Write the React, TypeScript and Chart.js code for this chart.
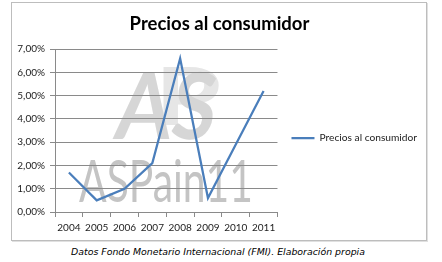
import React, { useEffect, useRef } from "react";
import { Chart, registerables } from "chart.js";

Chart.register(...registerables);

const years: string[] = ["2004", "2005", "2006", "2007", "2008", "2009", "2010", "2011"];
const preciosConsumidor: number[] = [1.7, 0.5, 1.0, 2.1, 6.6, 0.6, 2.9, 5.2];
const seriesName = "Precios al consumidor";
const chartTitle = "Precios al consumidor";
const caption = "Datos Fondo Monetario Internacional (FMI). Elaboración propia";
const watermarkText = "ASPain11";

const FONT = "Lato, 'Open Sans', sans-serif";
const GRID = "#8a8a8a";

const watermark = {
  id: "watermark",
  beforeDraw(chart: any) {
    const { ctx, chartArea: a } = chart;
    ctx.save();
    // 3D-ish logo block
    ctx.font = `bold 80px ${FONT}`;
    ctx.fillStyle = "#e6e6e6";
    let w = ctx.measureText("P").width;
    ctx.save();
    ctx.translate(a.left + 100, a.top + 76);
    ctx.scale(66 / w, 1);
    ctx.fillText("P", 0, 0);
    ctx.restore();
    ctx.font = `bold 92px ${FONT}`;
    w = ctx.measureText("AS").width;
    const g = ctx.createLinearGradient(a.left + 60, a.top + 20, a.left + 160, a.top + 92);
    g.addColorStop(0, "#d6d6d6");
    g.addColorStop(1, "#ececec");
    ctx.fillStyle = g;
    ctx.save();
    ctx.translate(a.left + 58, a.top + 90);
    ctx.transform(1, 0, -0.12, 1, 0, 0);
    ctx.scale(100 / w, 1);
    ctx.fillText("AS", 0, 0);
    ctx.restore();
    // ASPain11 text
    ctx.font = `58px ${FONT}`;
    w = ctx.measureText(watermarkText).width;
    ctx.fillStyle = "#c4c4c4";
    ctx.translate(a.left + 24, a.bottom - 10);
    ctx.scale(174 / w, 1);
    ctx.fillText(watermarkText, 0, 0);
    ctx.restore();
  },
};

function fmt(v: number): string {
  return v.toFixed(2).replace(".", ",") + "%";
}

export default function App() {
  const ref = useRef<HTMLCanvasElement | null>(null);
  useEffect(() => {
    if (!ref.current) return;
    const chart = new Chart(ref.current, {
      type: "line",
      data: {
        labels: years,
        datasets: [
          {
            label: seriesName,
            data: preciosConsumidor,
            borderColor: "#4a7ebb",
            backgroundColor: "#4a7ebb",
            borderWidth: 2.25,
            pointRadius: 0,
            tension: 0,
            fill: false,
          },
        ],
      },
      options: {
        responsive: false,
        animation: false,
        layout: { padding: { left: 0, right: 15, top: 0, bottom: 1 } },
        plugins: {
          tooltip: { enabled: false },
          title: {
            display: true,
            text: chartTitle,
            color: "#000",
            font: { family: FONT, size: 18.5, weight: "bold" },
            padding: { top: 10, bottom: 14 },
          },
          legend: {
            display: true,
            position: "right",
            align: "center",
            maxWidth: 220,
            title: {
              display: true,
              text: " ",
              font: { family: FONT, size: 10 },
              padding: { top: 22, bottom: 0 },
            },
            labels: {
              usePointStyle: true,
              pointStyle: "line",
              pointStyleWidth: 23,
              padding: 14,
              color: "#222",
              font: { family: FONT, size: 10.2 },
            },
          },
        },
        scales: {
          x: {
            offset: true,
            grid: {
              offset: true,
              drawOnChartArea: false,
              drawTicks: true,
              tickLength: 5,
              color: GRID,
            },
            border: { display: true, color: GRID },
            ticks: {
              color: "#222",
              font: { family: FONT, size: 10 },
              padding: 5,
              maxRotation: 0,
              autoSkip: false,
            },
          },
          y: {
            min: 0,
            max: 7,
            afterFit(scale: any) {
              scale.width = 43;
            },
            grid: {
              color: GRID,
              drawTicks: true,
              tickLength: 5,
            },
            border: { display: true, color: GRID },
            ticks: {
              stepSize: 1,
              color: "#222",
              font: { family: FONT, size: 10 },
              padding: 5,
              callback: (v: any) => fmt(Number(v)),
            },
          },
        },
      },
      plugins: [watermark],
    });
    return () => chart.destroy();
  }, []);

  return (
    <div style={{ position: "fixed", left: 0, top: 0, width: 442, height: 262, background: "#fff", overflow: "hidden" }}>
      <div
        style={{
          position: "absolute",
          left: 11,
          top: 2,
          width: 416,
          height: 239,
          boxSizing: "border-box",
          border: "1px solid #bdbdbd",
          boxShadow: "1px 1px 0 #e0e0e0",
        }}
      />
      <canvas
        ref={ref}
        width={430}
        height={237}
        style={{ position: "absolute", left: 12, top: 3, width: 430, height: 237 }}
      />
      <div
        style={{
          position: "absolute",
          left: 0,
          top: 245,
          width: 436,
          height: 14,
          lineHeight: "14px",
          textAlign: "center",
          fontFamily: "'DejaVu Sans', Verdana, sans-serif",
          fontStyle: "italic",
          fontSize: 9.4,
          color: "#000",
        }}
      >
        {caption}
      </div>
    </div>
  );
}
